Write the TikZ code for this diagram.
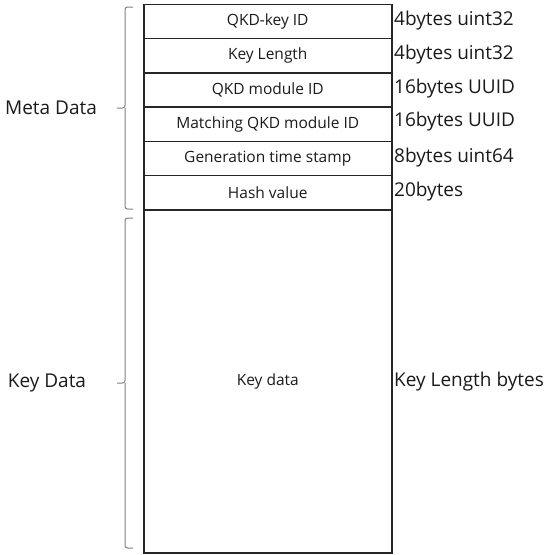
\documentclass[tikz,border=0pt]{standalone}
\usepackage{fontspec}
\setmainfont{Open Sans}
\definecolor{txt}{HTML}{1A1A1A}
\definecolor{brc}{HTML}{808080}
\begin{document}
\begin{tikzpicture}[x=1pt,y=-1pt,
  field/.style={draw=black!85,line width=1.5pt,minimum width=248pt,inner sep=0pt,text=txt,font=\fontsize{15.5}{17}\selectfont,anchor=north west},
  size/.style={anchor=west,text=txt,inner sep=0pt,font=\fontsize{19}{21}\selectfont},
  group/.style={anchor=center,text=txt,inner sep=0pt,font=\fontsize{19}{21}\selectfont},
  bracket/.style={draw=brc,line width=1pt,rounded corners=2.5pt}]
\useasboundingbox (0,0) rectangle (550,555);
\node[field,minimum height=34.25pt] (f1) at (143,3.5) {QKD-key ID};
\node[field,minimum height=34.25pt] (f2) at (143,37.75) {Key Length};
\node[field,minimum height=34.25pt] (f3) at (143,72) {QKD module ID};
\node[field,minimum height=34.25pt] (f4) at (143,106.25) {Matching QKD module ID};
\node[field,minimum height=34.25pt] (f5) at (143,140.5) {Generation time stamp};
\node[field,minimum height=34.25pt] (f6) at (143,174.75) {Hash value};
\node[field,minimum height=343pt] (f7) at (143,209) {Key data};
\node[size] (s1) at (394,21) {4bytes uint32};
\node[size] (s2) at (394,55) {4bytes uint32};
\node[size] (s3) at (394,89) {16bytes UUID};
\node[size] (s4) at (394,122) {16bytes UUID};
\node[size] (s5) at (394,158) {8bytes uint64};
\node[size] (s6) at (394,192) {20bytes};
\node[size] (s7) at (394,382) {Key Length bytes};
\node[group] (g1) at (51,108) {Meta Data};
\node[group] (g2) at (47,383) {Key Data};
\draw[bracket] (133,7) -- (125,7) -- (125,108) -- (117,108) (125,108) -- (125,209) -- (133,209);
\draw[bracket] (133,218) -- (125,218) -- (125,383) -- (117,383) (125,383) -- (125,548) -- (133,548);
\end{tikzpicture}
\end{document}
